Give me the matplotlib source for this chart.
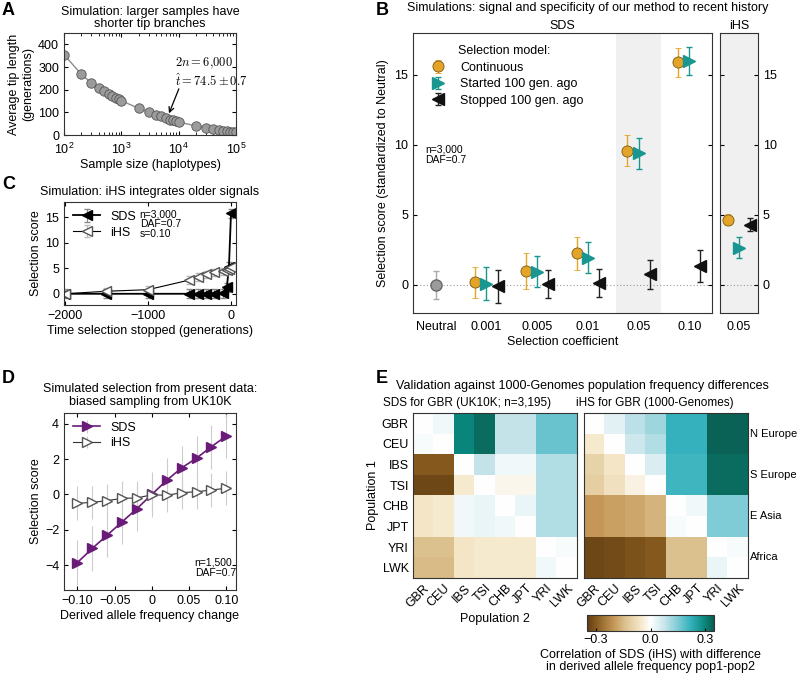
import numpy as np
import matplotlib
matplotlib.use('Agg')
import matplotlib.pyplot as plt
from matplotlib.colors import LinearSegmentedColormap

plt.rcParams['font.family'] = ['Liberation Sans', 'DejaVu Sans']
plt.rcParams['font.size'] = 9
plt.rcParams['axes.linewidth'] = 0.8
plt.rcParams['axes.edgecolor'] = '#333333'
plt.rcParams['xtick.direction'] = 'in'
plt.rcParams['ytick.direction'] = 'in'
plt.rcParams['xtick.major.size'] = 3
plt.rcParams['ytick.major.size'] = 3
plt.rcParams['axes.unicode_minus'] = True

# --- data: panel A (tip length vs sample size) ---
sample_size = [100, 200, 300, 400, 500, 600, 700, 800, 900, 1000,
               2000, 3000, 4000, 5000, 6000, 7000, 8000, 9000, 10000,
               20000, 30000, 40000, 50000, 60000, 70000, 80000, 90000, 100000]
tip_length = [355, 268, 230, 207, 193, 181, 172, 164, 158, 151,
              118, 101, 90, 82, 74.5, 68, 64, 60, 57,
              40, 32, 26, 22, 19, 17, 15, 14, 13]

# --- panel C (time selection stopped) ---
c_time = [-2000, -1500, -1000, -500, -400, -300, -200, -100, -50, -25, 0]
c_sds = [0, 0, 0, 0, 0, 0, 0, 0.1, 1.3, 5.3, 15.8]
c_ihs = [0, 0.5, 0.8, 2.7, 3.3, 3.8, 4.2, 4.4, 4.6, 4.8, 5.2]

# --- panel D (biased sampling from UK10K) ---
d_freq = [-0.10, -0.08, -0.06, -0.04, -0.02, 0.0, 0.02, 0.04, 0.06, 0.08, 0.10]
d_sds = [-3.85, -3.05, -2.3, -1.55, -0.8, 0.0, 0.8, 1.5, 2.05, 2.7, 3.3]
d_ihs = [-0.5, -0.45, -0.35, -0.22, -0.2, -0.02, -0.05, 0.1, 0.15, 0.25, 0.35]
d_sds_err = 1.25
d_ihs_err = 0.95

# --- panel B (selection models) ---
b_cats = ['Neutral', '0.001', '0.005', '0.01', '0.05', '0.10']
b_neutral, b_neutral_err = 0.0, 1.0
b_cont = [0.2, 1.0, 2.25, 9.6, 15.9]
b_cont_err = [1.1, 1.3, 1.15, 1.1, 1.05]
b_start = [0.1, 0.95, 1.95, 9.4, 16.0]
b_start_err = [1.15, 1.1, 1.1, 1.1, 1.0]
b_stop = [-0.1, 0.05, 0.15, 0.75, 1.35]
b_stop_err = [1.2, 1.0, 1.0, 1.05, 1.15]
ihs_cont, ihs_cont_err = 4.65, 0.4
ihs_start, ihs_start_err = 2.65, 0.75
ihs_stop, ihs_stop_err = 4.3, 0.45

# --- panel E (correlation heatmaps) ---
pops = ['GBR', 'CEU', 'IBS', 'TSI', 'CHB', 'JPT', 'YRI', 'LWK']
regions = ['N Europe', 'S Europe', 'E Asia', 'Africa']
sds_corr = np.array([
    [0.00, 0.02, 0.30, 0.33, 0.08, 0.08, 0.17, 0.17],
    [0.01, 0.00, 0.30, 0.33, 0.08, 0.08, 0.17, 0.17],
    [-0.30, -0.30, 0.00, 0.08, 0.02, 0.02, 0.10, 0.10],
    [-0.33, -0.33, -0.05, 0.00, -0.02, -0.02, 0.10, 0.10],
    [-0.06, -0.05, 0.02, 0.03, 0.00, 0.03, 0.10, 0.10],
    [-0.06, -0.05, 0.02, 0.03, 0.02, 0.00, 0.10, 0.10],
    [-0.14, -0.14, -0.06, -0.05, -0.05, -0.05, 0.00, 0.01],
    [-0.15, -0.15, -0.06, -0.05, -0.05, -0.05, 0.02, 0.00],
])
ihs_corr = np.array([
    [0.00, 0.04, 0.09, 0.12, 0.22, 0.22, 0.34, 0.34],
    [-0.05, 0.00, 0.07, 0.10, 0.22, 0.22, 0.34, 0.34],
    [-0.10, -0.06, 0.00, 0.05, 0.21, 0.21, 0.33, 0.33],
    [-0.11, -0.07, -0.03, 0.00, 0.21, 0.21, 0.33, 0.33],
    [-0.20, -0.19, -0.18, -0.16, 0.00, 0.02, 0.15, 0.15],
    [-0.20, -0.19, -0.18, -0.16, 0.01, 0.00, 0.15, 0.15],
    [-0.33, -0.32, -0.31, -0.30, -0.14, -0.14, 0.00, 0.01],
    [-0.33, -0.32, -0.31, -0.30, -0.14, -0.14, 0.03, 0.00],
])

W, H = 800, 677
fig = plt.figure(figsize=(8, 6.77), dpi=100)


def box(l, t, r, b):
    return [l / W, 1 - b / H, (r - l) / W, (b - t) / H]


def letter(x, y, s):
    fig.text(x / W, 1 - y / H, s, fontsize=13, fontweight='bold', va='top',
             family=['Liberation Sans Narrow', 'Liberation Sans'])


ORANGE = '#e3a427'
TEAL = '#1a9690'
PURPLE = '#6a1b78'

# ---------------- A ----------------
axA = fig.add_axes(box(64, 33, 236, 135))
axA.plot(sample_size, tip_length, '-', color='#8c8c8c', lw=1, zorder=1)
axA.plot(sample_size, tip_length, 'o', ms=6.8, mfc='#9b9b9b', mec='#555555', mew=0.6, zorder=2)
axA.set_xscale('log')
axA.set_xlim(100, 1e5)
axA.set_ylim(0, 450)
axA.set_yticks([0, 100, 200, 300, 400])
axA.tick_params(which='both', top=True, right=True)
axA.tick_params(axis='x', pad=5)
axA.set_xlabel('Sample size (haplotypes)', labelpad=1)
axA.set_ylabel('Average tip length\n(generations)', labelpad=3)
axA.set_title('Simulation: larger samples have\nshorter tip branches', fontsize=9, pad=4, linespacing=1.05)
axA.text(8500, 275, r'$2n=6{,}000$' + '\n' + r'$\hat{t}=74.5\pm0.7$', math_fontfamily='cm',
         fontsize=9, ha='left', va='center', linespacing=1.1)
axA.annotate('', xy=(6500, 84), xytext=(10500, 215),
             arrowprops=dict(arrowstyle='->', color='k', lw=0.9))

# ---------------- C ----------------
axC = fig.add_axes(box(64, 202, 236, 305))
hs = axC.errorbar(c_time, c_sds, yerr=0.9, color='k', lw=1.3, marker='<', ms=6.5,
                  mfc='k', mec='k', ecolor='#888888', elinewidth=0.8, capsize=2, label='SDS')
hi = axC.errorbar(c_time, c_ihs, yerr=0.7, color='k', lw=0.8, marker='<', ms=6.5,
                  mfc='white', mec='#555555', ecolor='#bbbbbb', elinewidth=0.8, capsize=2, label='iHS')
axC.set_xlim(-2010, 60)
axC.set_ylim(-2.2, 18)
axC.set_xticks([-2000, -1000, 0])
axC.set_yticks([0, 5, 10, 15])
axC.tick_params(top=True, right=True)
axC.set_xlabel('Time selection stopped (generations)', labelpad=2)
axC.set_ylabel('Selection score', labelpad=2)
axC.set_title('Simulation: iHS integrates older signals', fontsize=9, pad=5)
axC.legend(handles=[hs, hi], loc='upper left', frameon=False, fontsize=9,
           handlelength=2.2, borderaxespad=0.3, labelspacing=0.3)
axC.text(0.44, 0.93, 'n=3,000\nDAF=0.7\ns=0.10', transform=axC.transAxes,
         fontsize=7.5, va='top', linespacing=1.0)

# ---------------- D ----------------
axD = fig.add_axes(box(64, 413, 236, 590))
hd = axD.errorbar(d_freq, d_sds, yerr=d_sds_err, color=PURPLE, lw=1.2, marker='>', ms=7,
                  mfc=PURPLE, mec=PURPLE, ecolor='#cccccc', elinewidth=0.8, capsize=0, label='SDS')
hdi = axD.errorbar(d_freq, d_ihs, yerr=d_ihs_err, color='#333333', lw=0.8, marker='>', ms=7,
                   mfc='white', mec='#555555', ecolor='#cccccc', elinewidth=0.8, capsize=0, label='iHS')
axD.set_xlim(-0.118, 0.113)
axD.set_ylim(-5.4, 4.6)
axD.set_xticks([-0.10, -0.05, 0, 0.05, 0.10])
axD.set_xticklabels(['\u22120.10', '\u22120.05', '0', '0.05', '0.10'])
axD.set_yticks([-4, -2, 0, 2, 4])
axD.tick_params(top=True, right=True)
axD.set_xlabel('Derived allele frequency change', labelpad=2)
axD.set_ylabel('Selection score', labelpad=2)
axD.set_title('Simulated selection from present data:\nbiased sampling from UK10K', fontsize=9, pad=6,
              linespacing=1.05)
axD.legend(handles=[hd, hdi], loc='upper left', frameon=False, fontsize=9,
           handlelength=2.2, borderaxespad=0.3, labelspacing=0.3)
axD.text(0.76, 0.07, 'n=1,500\nDAF=0.7', transform=axD.transAxes, fontsize=7.5,
         va='bottom', linespacing=1.0)

# ---------------- B ----------------
axB = fig.add_axes(box(413, 33, 712, 313))
xs = np.arange(1, len(b_cats))
axB.axvspan(3.55, 4.45, color='#f0f0f0', zorder=0, lw=0)
axB.axhline(0, color='#999999', ls=(0, (1, 2)), lw=0.8, zorder=1)
axB.errorbar([0], [b_neutral], yerr=b_neutral_err, fmt='o', ms=8, mfc='#9b9b9b', mec='#666666',
             ecolor='#aaaaaa', elinewidth=1, capsize=2, zorder=3)
h1 = axB.errorbar(xs - 0.22, b_cont, yerr=b_cont_err, fmt='o', ms=8, mfc=ORANGE, mec='#7a5a10',
                  mew=0.6, ecolor=ORANGE, elinewidth=1, capsize=2, label='Continuous', zorder=3)
h2 = axB.errorbar(xs, b_start, yerr=b_start_err, fmt='>', ms=8, mfc=TEAL, mec=TEAL,
                  ecolor=TEAL, elinewidth=1, capsize=2, label='Started 100 gen. ago', zorder=3)
h3 = axB.errorbar(xs + 0.22, b_stop, yerr=b_stop_err, fmt='<', ms=8, mfc='#111111', mec='#111111',
                  ecolor='#222222', elinewidth=1, capsize=2, label='Stopped 100 gen. ago', zorder=3)
axB.set_xlim(-0.45, 5.45)
axB.set_ylim(-2, 18)
axB.set_xticks(range(len(b_cats)))
axB.set_xticklabels(b_cats)
axB.set_yticks([0, 5, 10, 15])
axB.tick_params(axis='x', length=0, pad=6)
axB.tick_params(axis='y', right=True)
axB.set_xlabel('Selection coefficient', labelpad=2)
axB.set_ylabel('Selection score (standardized to Neutral)', labelpad=4)
axB.set_title('SDS', fontsize=9, pad=3)
axB.legend(handles=[h1, h2, h3], title='Selection model:', loc='upper left', frameon=False,
           fontsize=9, title_fontsize=9, handletextpad=0.8, borderaxespad=0.6, labelspacing=0.35)
axB.text(0.04, 0.6, 'n=3,000\nDAF=0.7', transform=axB.transAxes, fontsize=7.5,
         va='top', linespacing=1.0)

axBi = fig.add_axes(box(720, 33, 758, 313))
axBi.set_facecolor('#f0f0f0')
axBi.axhline(0, color='#999999', ls=(0, (1, 2)), lw=0.8, zorder=1)
axBi.errorbar([-0.25], [ihs_cont], yerr=ihs_cont_err, fmt='o', ms=8, mfc=ORANGE, mec='#7a5a10',
              mew=0.6, ecolor=ORANGE, elinewidth=1, capsize=2, zorder=3)
axBi.errorbar([0], [ihs_start], yerr=ihs_start_err, fmt='>', ms=8, mfc=TEAL, mec=TEAL,
              ecolor=TEAL, elinewidth=1, capsize=2, zorder=3)
axBi.errorbar([0.25], [ihs_stop], yerr=ihs_stop_err, fmt='<', ms=8, mfc='#111111', mec='#111111',
              ecolor='#222222', elinewidth=1, capsize=2, zorder=3)
axBi.set_xlim(-0.42, 0.42)
axBi.set_ylim(-2, 18)
axBi.set_xticks([0])
axBi.set_xticklabels(['0.05'])
axBi.tick_params(axis='x', length=0, pad=6)
axBi.yaxis.tick_right()
axBi.tick_params(axis='y', left=True, right=True)
axBi.set_yticks([0, 5, 10, 15])
axBi.set_title('iHS', fontsize=9, pad=3)

fig.text(588 / W, 1 - 8 / H, 'Simulations: signal and specificity of our method to recent history',
         ha='center', va='center', fontsize=9)

# ---------------- E ----------------
cmap = LinearSegmentedColormap.from_list('brteal', [
    (0.0, '#5e3c12'), (0.0714, '#86591f'), (0.214, '#c6995a'), (0.3, '#dcc28f'),
    (0.414, '#f4e5c6'), (0.5, '#ffffff'), (0.614, '#c6e4ea'), (0.714, '#80ccd6'),
    (0.814, '#35b2bd'), (0.929, '#0a867c'), (1.0, '#0a5a4e')])

axE1 = fig.add_axes(box(413, 413, 577, 578))
axE2 = fig.add_axes(box(584, 413, 748, 578))
for ax, mat in [(axE1, sds_corr), (axE2, ihs_corr)]:
    im = ax.imshow(mat, cmap=cmap, vmin=-0.35, vmax=0.35, aspect='auto', interpolation='nearest')
    ax.set_xticks(range(len(pops)))
    ax.set_xticklabels(pops, rotation=45, ha='right', rotation_mode='anchor')
    ax.tick_params(length=0, pad=3)
axE1.set_yticks(range(len(pops)))
axE1.set_yticklabels(pops)
axE2.set_yticks([])
axE1.set_ylabel('Population 1', labelpad=2)
axE1.set_xlabel('Population 2', labelpad=2)
fig.text(467 / W, 1 - 403 / H, 'SDS for GBR (UK10K; n=3,195)', ha='center', va='center', fontsize=8.5)
fig.text(655 / W, 1 - 403 / H, 'iHS for GBR (1000-Genomes)', ha='center', va='center', fontsize=8.5)
for i, reg in enumerate(regions):
    axE2.text(1.015, 1 - (2 * i + 1) / 8, reg, transform=axE2.transAxes, va='center', ha='left',
              fontsize=8)
fig.text(582 / W, 1 - 386 / H, 'Validation against 1000-Genomes population frequency differences',
         ha='center', va='center', fontsize=9)

cax = fig.add_axes(box(587, 615, 714, 631))
cb = fig.colorbar(im, cax=cax, orientation='horizontal', ticks=[-0.3, 0, 0.3])
cb.ax.set_xticklabels(['\u22120.3', '0.0', '0.3'])
cb.ax.tick_params(length=2, pad=2)
cb.outline.set_linewidth(0.8)
cb.set_label('Correlation of SDS (iHS) with difference\nin derived allele frequency pop1-pop2',
             fontsize=9, labelpad=2, linespacing=1.05)

letter(2, 2, 'A')
letter(2, 176, 'C')
letter(2, 370, 'D')
letter(376, 2, 'B')
letter(376, 370, 'E')

fig.savefig('out.png', dpi=100)
